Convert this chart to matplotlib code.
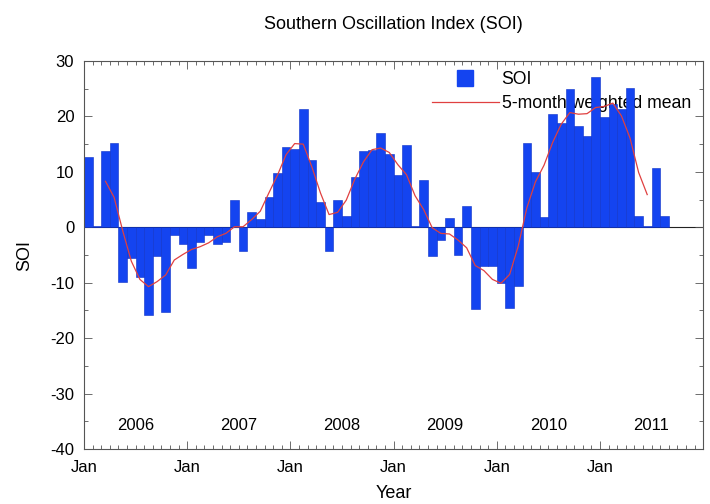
import numpy as np
import matplotlib
matplotlib.use("Agg")
import matplotlib.pyplot as plt
from matplotlib.lines import Line2D
from matplotlib.ticker import MultipleLocator

plt.rcParams['font.family'] = ['Liberation Sans', 'DejaVu Sans']
plt.rcParams['axes.unicode_minus'] = False

# monthly SOI values, Jan 2006 to Aug 2011
soi = [12.7, 0.2, 13.8, 15.2, -9.8, -5.5, -8.9, -15.9, -5.1, -15.3, -1.4, -3.0,
       -7.3, -2.7, -1.4, -3.0, -2.7, 5.0, -4.3, 2.7, 1.5, 5.4, 9.8, 14.4,
       14.1, 21.3, 12.2, 4.5, -4.3, 5.0, 2.1, 9.1, 13.8, 13.9, 17.1, 13.3,
       9.4, 14.8, 0.2, 8.6, -5.1, -2.2, 1.6, -5.0, 3.9, -14.7, -6.9, -7.0,
       -10.1, -14.5, -10.6, 15.2, 10.0, 1.8, 20.5, 18.8, 25.0, 18.3, 16.4, 27.1,
       19.9, 22.3, 21.4, 25.1, 2.1, 0.2, 10.7, 2.1]

# red curve, read at month centres from Mar 2006 to Jun 2011
wmean = [8.3, 5.4, -0.6, -6.1, -9.4, -10.7, -9.8, -8.6, -5.9, -4.9,
         -4.0, -3.5, -2.8, -1.7, -1.1, 0.1, 0.1, 1.4, 2.9, 6.2, 9.4, 13.1,
         15.1, 15.0, 10.9, 6.2, 2.3, 2.7, 4.9, 8.7, 11.8, 14.0, 14.3, 13.5,
         11.3, 9.5, 5.7, 3.2, -0.1, -1.1, -1.2, -2.3, -3.7, -6.9, -7.8, -9.4,
         -10.1, -8.5, -3.4, 3.5, 8.2, 11.2, 15.3, 18.6, 20.7, 20.4, 20.5, 21.6,
         21.8, 22.4, 20.1, 16.1, 9.9, 5.9]
wmean_start = 2

years = ['2006', '2007', '2008', '2009', '2010', '2011']

fig = plt.figure(figsize=(7.1, 5.04), dpi=100)
ax = fig.add_axes([0.1183, 0.109, 0.872, 0.770])

months = np.arange(len(soi))
ax.bar(months, soi, width=1.0, align='edge', color='#1444f0',
       edgecolor='#0b2fc8', linewidth=0.4, zorder=2)
ax.axhline(0, color='#222222', linewidth=0.8, zorder=1)

mx = np.arange(len(wmean)) + wmean_start + 0.5
ax.plot(mx, wmean, color='#e04040', linewidth=0.9, zorder=3)

# year names sit inside the plot, mid-year
for k, y in enumerate(years):
    ax.text(12 * k + 6, -35.7, y, ha='center', va='center', fontsize=12)

ax.set_xlim(0, 72)
ax.set_ylim(-40, 30)
ax.set_xticks(range(0, 73, 12))
ax.set_xticklabels(['Jan'] * 6 + [''])
ax.xaxis.set_minor_locator(MultipleLocator(1))
ax.yaxis.set_major_locator(MultipleLocator(10))
ax.yaxis.set_minor_locator(MultipleLocator(5))
ax.tick_params(which='both', direction='in', top=True, right=True,
               labelsize=12, width=0.6, color='#555555')
ax.tick_params(which='major', length=6)
ax.tick_params(which='minor', length=3)
ax.tick_params(axis='x', which='major', pad=8)
ax.tick_params(axis='y', which='major', pad=7)
for s in ax.spines.values():
    s.set_linewidth(0.8)
    s.set_color('#555555')

ax.set_xlabel('Year', fontsize=13, labelpad=7)
ax.set_ylabel('SOI', fontsize=13, labelpad=12)
ax.set_title('Southern Oscillation Index (SOI)', fontsize=13, pad=23)

handles = [Line2D([], [], marker='s', linestyle='none', markersize=11,
                  color='#1444f0'),
           Line2D([], [], color='#e04040', linewidth=0.9)]
leg = ax.legend(handles, ['SOI', '5-month weighted mean'], loc='upper left',
                bbox_to_anchor=(0.562, 0.975), frameon=False, fontsize=12.7,
                handlelength=3.8, handletextpad=0.15, labelspacing=0.4,
                borderpad=0, borderaxespad=0)
leg.set_zorder(1)

fig.savefig('out.png', dpi=100)
